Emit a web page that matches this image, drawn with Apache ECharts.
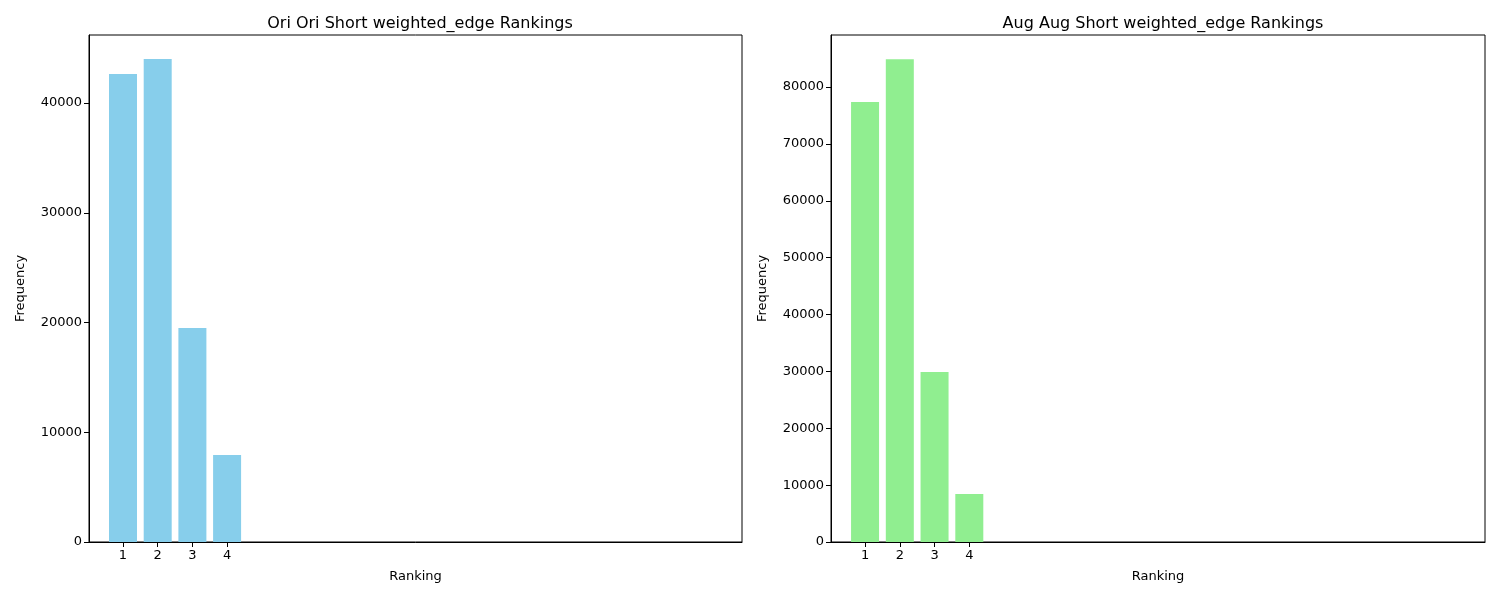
<!DOCTYPE html>
<html>
<head>
<meta charset="utf-8">
<script src="https://cdn.jsdelivr.net/npm/echarts@6/dist/echarts.min.js"></script>
<style>
  html, body { margin: 0; padding: 0; background: #fff; }
  #chart { width: 1500px; height: 600px; }
</style>
</head>
<body>
<div id="chart"></div>
<script>
// Rankings and frequencies
const rankings = [1, 2, 3, 4];
const oriFreq = [42650, 44000, 19500, 7930];
const augFreq = [77350, 84900, 29900, 8440];
const titles = ["Ori Ori Short weighted_edge Rankings", "Aug Aug Short weighted_edge Rankings"];

const font = "DejaVu Sans";
const chart = echarts.init(document.getElementById("chart"));

function xAxisFor(gridIndex) {
  return {
    type: "value", gridIndex: gridIndex, min: 0.02, max: 18.84,
    name: "Ranking", nameLocation: "middle", nameGap: 28,
    nameTextStyle: { color: "#000", fontFamily: font, fontSize: 13 },
    axisLine: { show: true, onZero: false, lineStyle: { color: "#000" } },
    axisTick: { show: true, customValues: rankings, length: 5, lineStyle: { color: "#000" } },
    axisLabel: { customValues: rankings, color: "#000", fontFamily: font, fontSize: 13, margin: 7 },
    splitLine: { show: false }
  };
}

function yAxisFor(gridIndex, max) {
  return {
    type: "value", gridIndex: gridIndex, min: 0, max: max, interval: 10000,
    name: "Frequency", nameLocation: "middle", nameGap: 62,
    nameTextStyle: { color: "#000", fontFamily: font, fontSize: 13 },
    axisLine: { show: true, lineStyle: { color: "#000" } },
    axisTick: { show: true, length: 5, inside: false, lineStyle: { color: "#000" } },
    axisLabel: { color: "#000", fontFamily: font, fontSize: 13, margin: 7,
      showMaxLabel: false, formatter: v => String(v) },
    splitLine: { show: false }
  };
}

chart.setOption({
  animation: false,
  title: [
    { text: titles[0], left: 415, top: 11, textAlign: "center",
      textStyle: { fontFamily: font, fontSize: 16, fontWeight: "normal", color: "#000" } },
    { text: titles[1], left: 1158, top: 11, textAlign: "center",
      textStyle: { fontFamily: font, fontSize: 16, fontWeight: "normal", color: "#000" } }
  ],
  grid: [
    { left: 89, top: 35, width: 653, height: 507, show: true, borderColor: "#000", borderWidth: 1 },
    { left: 831, top: 35, width: 654, height: 507, show: true, borderColor: "#000", borderWidth: 1 }
  ],
  xAxis: [xAxisFor(0), xAxisFor(1)],
  yAxis: [yAxisFor(0, 46196), yAxisFor(1, 89143)],
  series: [
    { type: "bar", xAxisIndex: 0, yAxisIndex: 0, barWidth: 28,
      itemStyle: { color: "#87CEEB" },
      data: rankings.map((r, i) => [r, oriFreq[i]]) },
    { type: "bar", xAxisIndex: 1, yAxisIndex: 1, barWidth: 28,
      itemStyle: { color: "#90EE90" },
      data: rankings.map((r, i) => [r, augFreq[i]]) }
  ]
});
</script>
</body>
</html>
